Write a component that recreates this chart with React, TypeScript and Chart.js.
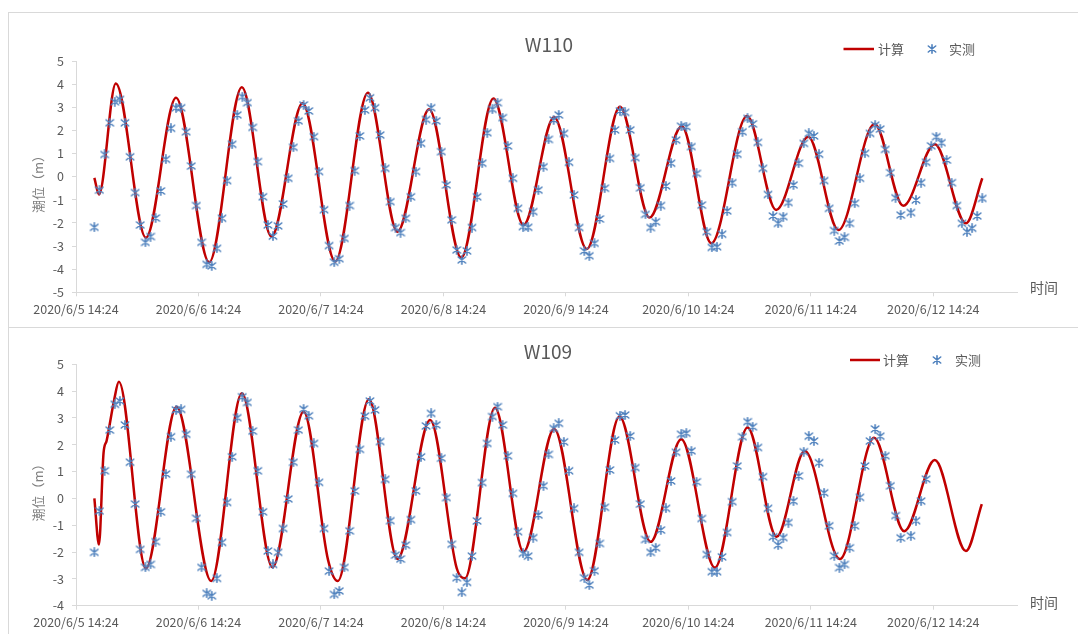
import React, { useEffect, useRef } from 'react';
import { Chart, registerables } from 'chart.js';

Chart.register(...registerables);

// ---------- data ----------
// hours counted from 2020/6/5 18:00 (first record); axis starts at 2020/6/5 14:24
const xTickHours = [-3.6, 20.4, 44.4, 68.4, 92.4, 116.4, 140.4, 164.4];
const xTickLabels = [
  '2020/6/5 14:24', '2020/6/6 14:24', '2020/6/7 14:24', '2020/6/8 14:24',
  '2020/6/9 14:24', '2020/6/10 14:24', '2020/6/11 14:24', '2020/6/12 14:24',
];
const xMinHour = -3.6;
const xMaxHour = 180.8;

const seriesCalcName = '计算';
const seriesMeasName = '实测';

// W110 computed curve: turning points (hour, level)
const calcW110Hours = [0, 0.9, 4.2, 10.1, 16.0, 22.5, 28.9, 34.7, 40.8, 47.2, 53.6, 59.4, 65.6, 71.9, 78.2, 84.1, 90.1, 96.5, 103.0, 108.8, 115.1, 120.9, 127.9, 133.6, 139.9, 145.8, 152.9, 158.5, 164.7, 170.8, 174];
const calcW110Values = [-0.05, -0.77, 4.03, -2.64, 3.41, -3.70, 3.86, -2.59, 3.17, -3.67, 3.63, -2.38, 2.91, -3.50, 3.38, -2.09, 2.57, -3.13, 3.02, -1.77, 2.18, -2.88, 2.62, -1.44, 1.73, -2.31, 2.28, -1.26, 1.40, -2.02, -0.07];

// W110 measured, hourly from 2020/6/5 18:00
const measW110 = [
  -2.19, -0.58, 0.96, 2.33, 3.24, 3.34, 2.33, 0.86, -0.69, -2.09,
  -2.84, -2.59, -1.79, -0.62, 0.75, 2.09, 2.98, 2.98, 1.94, 0.46,
  -1.25, -2.84, -3.79, -3.86, -3.10, -1.80, -0.17, 1.40, 2.67, 3.46,
  3.20, 2.13, 0.65, -0.87, -2.09, -2.57, -2.13, -1.18, -0.07, 1.27,
  2.41, 3.10, 2.84, 1.73, 0.22, -1.43, -2.98, -3.70, -3.55, -2.67,
  -1.25, 0.26, 1.76, 2.88, 3.41, 2.98, 1.80, 0.36, -1.08, -2.20,
  -2.42, -1.80, -0.87, 0.22, 1.44, 2.47, 2.98, 2.41, 1.08, -0.36,
  -1.87, -3.17, -3.60, -3.21, -2.20, -0.87, 0.58, 1.90, 2.91, 3.20,
  2.55, 1.33, -0.07, -1.37, -2.16, -2.19, -1.51, -0.58, 0.43, 1.61,
  2.45, 2.67, 1.87, 0.62, -0.79, -2.20, -3.21, -3.42, -2.88, -1.83,
  -0.50, 0.79, 2.02, 2.84, 2.78, 2.02, 0.82, -0.48, -1.63, -2.20,
  -1.95, -1.25, -0.40, 0.58, 1.58, 2.18, 2.16, 1.30, 0.14, -1.23,
  -2.38, -3.06, -3.03, -2.49, -1.48, -0.26, 0.97, 1.94, 2.52, 2.28,
  1.48, 0.36, -0.77, -1.70, -2.02, -1.73, -1.12, -0.36, 0.58, 1.44,
  1.87, 1.76, 0.97, -0.17, -1.37, -2.33, -2.78, -2.62, -2.02, -1.15,
  -0.07, 1.01, 1.87, 2.23, 2.06, 1.18, 0.17, -0.91, -1.66, null,
  -1.55, -1.01, -0.26, 0.62, 1.33, 1.73, 1.47, 0.72, -0.26, -1.25,
  -2.02, -2.38, -2.23, -1.70, -0.94,
];

// W109 computed curve: turning points (hour, level)
const calcW109Hours = [0, 0.9, 1.8, 2.4, 3.9, 4.8, 10.1, 16.1, 22.9, 28.9, 34.9, 41.0, 45.8, 47.7, 53.8, 59.4, 65.8, 71.0, 72.6, 78.5, 84.1, 90.1, 96.6, 102.9, 109.0, 115.0, 121.6, 128.0, 133.7, 139.2, 146.1, 152.8, 158.7, 164.7, 170.8, 173.9];
const calcW109Values = [0.0, -1.72, 1.7, 2.15, 3.7, 4.35, -2.61, 3.42, -3.08, 3.92, -2.57, 3.23, -2.3, -3.08, 3.70, -2.26, 2.92, -2.6, -2.98, 3.38, -1.99, 2.59, -3.04, 3.05, -1.62, 2.21, -2.58, 2.64, -1.43, 1.77, -2.26, 2.26, -1.22, 1.43, -1.96, -0.21];

// W109 measured, hourly from 2020/6/5 18:00
const measW109 = [
  -2.01, -0.47, 1.03, 2.55, 3.51, 3.63, 2.74, 1.35, -0.21, -1.90,
  -2.57, -2.46, -1.61, -0.50, 0.91, 2.30, 3.30, 3.32, 2.39, 0.90,
  -0.74, -2.57, -3.54, -3.63, -2.98, -1.64, -0.15, 1.55, 3.01, 3.79,
  3.58, 2.51, 1.03, -0.50, -1.96, -2.46, -2.01, -1.12, -0.02, 1.35,
  2.55, 3.33, 3.08, 2.05, 0.60, -1.12, -2.71, -3.58, -3.45, -2.57,
  -1.21, 0.28, 1.83, 3.07, 3.63, 3.30, 2.12, 0.71, -0.83, -2.11,
  -2.26, -1.74, -0.79, 0.28, 1.55, 2.70, 3.17, 2.74, 1.50, 0.03,
  -1.71, -2.96, -3.50, -3.13, -2.15, -0.84, 0.59, 2.05, 3.05, 3.42,
  2.74, 1.59, 0.19, -1.24, -2.05, -2.15, -1.46, -0.62, 0.47, 1.64,
  2.61, 2.80, 2.11, 1.03, -0.37, -2.01, -2.96, -3.23, -2.70, -1.68,
  -0.33, 1.06, 2.18, 3.08, 3.11, 2.33, 1.15, -0.21, -1.53, -2.01,
  -1.84, -1.18, -0.37, 0.65, 1.72, 2.39, 2.43, 1.77, 0.62, -0.75,
  -2.09, -2.73, -2.73, -2.18, -1.27, -0.12, 1.21, 2.30, 2.86, 2.67,
  1.90, 0.81, -0.37, -1.43, -1.74, -1.46, -0.90, -0.10, 0.84, 1.74,
  2.32, 2.14, 1.33, 0.21, -1.02, -2.14, -2.58, -2.46, -1.84, -1.02,
  0.04, 1.21, 2.14, 2.59, 2.32, 1.59, 0.47, -0.64, -1.47, null,
  -1.39, -0.83, -0.10, 0.72,
];

// ---------- styling ----------
const FONT = '"Noto Sans CJK SC", "Noto Sans", sans-serif';
const TEXT = '#595959';
const AXIS = '#d9d9d9';
const RED = '#c00000';
const BLUE = '#4f81bd';

function makeMarker(): HTMLCanvasElement {
  const c = document.createElement('canvas');
  c.width = 10;
  c.height = 10;
  const g = c.getContext('2d')!;
  g.strokeStyle = BLUE;
  g.lineWidth = 1.6;
  g.lineCap = 'round';
  g.beginPath();
  g.moveTo(1.3, 2.0); g.lineTo(8.7, 8.0);
  g.moveTo(8.7, 2.0); g.lineTo(1.3, 8.0);
  g.moveTo(5, 0.8); g.lineTo(5, 9.2);
  g.stroke();
  return c;
}

type Deco = {
  title: string; titleX: number; titleY: number;
  legY: number; legLine: [number, number]; calcTextX: number; starX: number; measTextX: number;
  yTitleX: number; yTitleY: number; xTitleX: number; xTitleY: number;
};

type Props = {
  width: number; height: number; left: number; top: number;
  areaTop: number; areaBottom: number; areaLeft: number; areaRight: number;
  yMin: number; yMax: number;
  calcHours: number[]; calcValues: number[]; measured: (number | null)[];
  deco: Deco;
};

function TideChart(p: Props) {
  const ref = useRef<HTMLCanvasElement>(null);
  useEffect(() => {
    const marker = makeMarker();
    const d = p.deco;
    const decor = {
      id: 'decor',
      afterDraw(chart: any) {
        const ctx = chart.ctx as CanvasRenderingContext2D;
        ctx.save();
        ctx.fillStyle = TEXT;
        ctx.textBaseline = 'middle';
        ctx.textAlign = 'center';
        ctx.font = `19px ${FONT}`;
        ctx.fillText(d.title, d.titleX, d.titleY);
        ctx.strokeStyle = RED;
        ctx.lineWidth = 2.5;
        ctx.beginPath();
        ctx.moveTo(d.legLine[0], d.legY);
        ctx.lineTo(d.legLine[1], d.legY);
        ctx.stroke();
        ctx.textAlign = 'left';
        ctx.font = `13px ${FONT}`;
        ctx.fillText(seriesCalcName, d.calcTextX, d.legY);
        ctx.drawImage(marker, d.starX - 5, d.legY - 5);
        ctx.fillText(seriesMeasName, d.measTextX, d.legY);
        ctx.font = `14px ${FONT}`;
        ctx.fillText('时间', d.xTitleX, d.xTitleY);
        ctx.translate(d.yTitleX, d.yTitleY);
        ctx.rotate(-Math.PI / 2);
        ctx.textAlign = 'center';
        ctx.fillStyle = '#808080';
        ctx.font = `13px ${FONT}`;
        ctx.fillText('潮位（m）', 0, 0);
        ctx.restore();
      },
    };
    const chart = new Chart(ref.current!, {
      type: 'line',
      data: {
        datasets: [
          {
            label: seriesCalcName,
            data: p.calcHours.map((h, i) => ({ x: h, y: p.calcValues[i] })),
            borderColor: RED,
            backgroundColor: RED,
            borderWidth: 2.5,
            pointRadius: 0,
            cubicInterpolationMode: 'monotone',
            order: 2,
          },
          {
            label: seriesMeasName,
            data: p.measured.map((v, i) => ({ x: i, y: v })),
            showLine: false,
            pointStyle: marker,
            pointRadius: 4,
            borderColor: BLUE,
            backgroundColor: BLUE,
            order: 1,
          },
        ],
      },
      options: {
        responsive: false,
        animation: false,
        events: [],
        layout: {
          padding: { top: p.areaTop, right: p.width - p.areaRight, left: 0, bottom: 0 },
        },
        plugins: { legend: { display: false }, title: { display: false }, tooltip: { enabled: false } },
        scales: {
          x: {
            type: 'linear',
            min: xMinHour,
            max: xMaxHour,
            afterBuildTicks: (s: any) => { s.ticks = xTickHours.map((v) => ({ value: v })); },
            afterFit: (s: any) => { s.height = p.height - p.areaBottom; },
            grid: { display: true, drawOnChartArea: false, drawTicks: true, tickLength: 4, color: AXIS },
            border: { display: true, color: AXIS, width: 1 },
            ticks: {
              autoSkip: false, maxRotation: 0, minRotation: 0, padding: 5,
              color: TEXT, font: { family: FONT, size: 12.5 },
              callback: (_v: any, i: number) => xTickLabels[i],
            },
          },
          y: {
            min: p.yMin,
            max: p.yMax,
            afterFit: (s: any) => { s.width = p.areaLeft; },
            grid: { display: true, drawOnChartArea: false, drawTicks: true, tickLength: 4, color: AXIS },
            border: { display: true, color: AXIS, width: 1 },
            ticks: { stepSize: 1, padding: 8, color: TEXT, font: { family: FONT, size: 12.5 } },
          },
        },
      },
      plugins: [decor],
    } as any);
    return () => chart.destroy();
  }, []);
  return (
    <canvas
      ref={ref}
      width={p.width}
      height={p.height}
      style={{ position: 'absolute', left: p.left, top: p.top, width: p.width, height: p.height }}
    />
  );
}

export default function App() {
  return (
    <div style={{ position: 'fixed', left: 0, top: 0, width: 1078, height: 634, background: '#fff', overflow: 'hidden' }}>
      <div style={{ position: 'absolute', left: 8, top: 12, width: 1090, height: 316, border: `1px solid ${AXIS}`, boxSizing: 'border-box' }} />
      <div style={{ position: 'absolute', left: 8, top: 327, width: 1090, height: 330, border: `1px solid ${AXIS}`, boxSizing: 'border-box' }} />
      <TideChart
        width={1070} height={313} left={8} top={12}
        areaTop={49} areaBottom={280.3} areaLeft={68} areaRight={1009}
        yMin={-5} yMax={5}
        calcHours={calcW110Hours} calcValues={calcW110Values} measured={measW110}
        deco={{
          title: 'W110', titleX: 541, titleY: 33,
          legY: 37, legLine: [835.5, 866], calcTextX: 870, starX: 924, measTextX: 941,
          yTitleX: 30, yTitleY: 169, xTitleX: 1022, xTitleY: 276,
        }}
      />
      <TideChart
        width={1070} height={308} left={8} top={326}
        areaTop={38.3} areaBottom={279.7} areaLeft={68} areaRight={1009}
        yMin={-4} yMax={5}
        calcHours={calcW109Hours} calcValues={calcW109Values} measured={measW109}
        deco={{
          title: 'W109', titleX: 540, titleY: 25.5,
          legY: 34, legLine: [842, 872], calcTextX: 875, starX: 929, measTextX: 947,
          yTitleX: 30, yTitleY: 163.5, xTitleX: 1022, xTitleY: 277,
        }}
      />
    </div>
  );
}
